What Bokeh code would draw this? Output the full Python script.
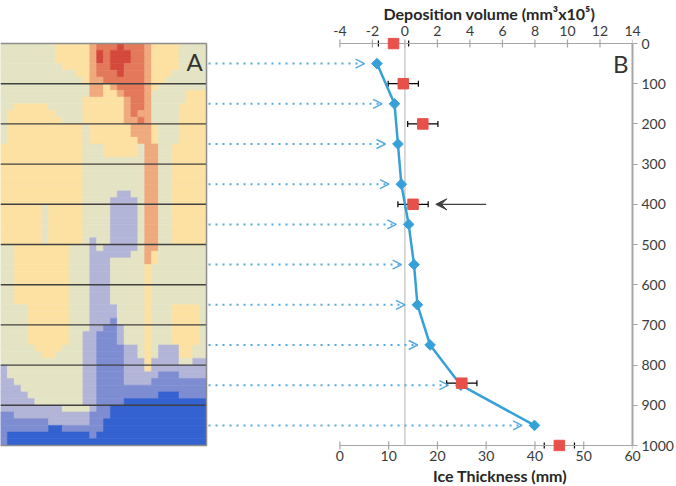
import math
from bokeh.plotting import figure
from bokeh.models import (Range1d, LinearAxis, SingleIntervalTicker, ColumnDataSource,
                          Whisker, TeeHead, Arrow, OpenHead, VeeHead, Label, Title)
from bokeh.embed import file_html
from bokeh.resources import INLINE

# ---------------- data ----------------
ice_depth = [50, 150, 250, 350, 450, 550, 650, 750, 850, 950]
ice_thickness = [7.6, 11.2, 11.9, 12.6, 14.1, 15.2, 15.9, 18.5, 24.8, 39.9]

dep_depth = [0, 100, 200, 400, 845, 1000]
dep_volume = [-0.7, -0.1, 1.1, 0.5, 3.5, 9.5]
dep_error = [0.93, 0.93, 0.93, 0.93, 0.93, 0.93]

section_lines = [100, 200, 300, 400, 500, 600, 700, 800, 900]
highlight_depth = 400
highlight_from, highlight_to = 5.0, 1.9   # deposition-volume units

top_title = "Deposition volume (mm\u00b3x10\u2075)"
bottom_title = "Ice Thickness (mm)"

# panel A map (run-length rows, 30 cells each, top -> bottom)
IMG_ROWS = [
    "g8 y5 o1 r3 R1 r3 o1 y4 g4",
    "g8 y5 o1 R1 r1 R3 r2 o1 y4 g4",
    "g8 y5 o1 R1 r1 R3 r2 o1 y4 g4",
    "g9 y4 o1 r2 R2 r3 o1 y4 g4",
    "g11 y2 o1 r3 R1 r3 o1 y3 g5",
    "g12 y1 o2 r6 o1 y2 g6",
    "g13 o2 y1 o1 r4 o1 y1 g7",
    "g13 o2 y2 o1 r3 o1 g5 y3",
    "g12 y6 o1 r2 o1 g5 y3",
    "g2 y5 g5 y6 o1 r2 o1 g4 y4",
    "g1 y7 g4 y6 o1 r1 o2 g4 y4",
    "g1 y8 g3 y6 o2 r1 o1 g4 y4",
    "g1 y11 g1 y6 o3 y1 g3 y4",
    "g1 y11 g1 y6 o3 y1 g3 y4",
    "g1 y11 g1 y7 o2 y1 g3 y4",
    "y12 g3 y5 g1 o2 g2 y5",
    "y12 g3 y5 g1 o2 g2 y5",
    "y12 g9 o2 g2 y5",
    "y12 g9 o2 g2 y5",
    "y12 g9 o2 g2 y5",
    "y12 g9 o2 g2 y5",
    "y12 g9 o2 g2 y5",
    "y12 g5 l2 g2 o2 g2 y5",
    "y12 g4 l4 g1 o2 g2 y5",
    "y6 g1 y5 g4 l4 g1 o2 g2 y5",
    "y6 g1 y5 g4 l4 g1 o2 g2 y5",
    "y6 g1 y5 g4 l4 g1 o2 g2 y5",
    "y6 g1 y5 g4 l4 g1 o2 g2 y5",
    "y6 g1 y5 g4 l4 g1 o2 g2 y5",
    "y6 g1 y5 g1 l1 g2 l4 g1 o2 g2 y5",
    "g2 y8 g3 l1 g1 l5 g1 o2 g7",
    "g2 y8 g3 l6 g2 o1 y1 g7",
    "g2 y8 g3 l3 g5 o1 y1 g7",
    "g2 y8 g3 l3 g5 y1 g8",
    "g2 y8 g3 l3 g5 y1 g8",
    "g2 y8 g3 l3 g5 y1 g8",
    "g2 y8 g3 l3 g5 y1 g8",
    "g2 y8 g3 l3 g5 y1 g8",
    "g2 y8 g3 l3 g5 y1 g8",
    "g4 y6 g3 l4 g4 y1 g3 y4 g1",
    "g4 y6 g3 l4 g4 y1 g3 y4 g1",
    "g4 y6 g3 l3 b1 g4 y1 g3 y4 g1",
    "g4 y6 g3 l2 b2 l1 g3 y1 g3 y4 g1",
    "g4 y6 g2 l2 b3 l1 g3 y1 g3 y4 g1",
    "g4 y6 g2 l2 b3 l1 g3 y1 g3 y4 g1",
    "g5 y4 g3 l2 b4 l2 g1 y1 g1 l3 y2 g2",
    "g6 y2 g4 l2 b4 l2 g1 y1 g1 l3 y2 g2",
    "g12 l2 b4 l3 y1 l4 g2 l2",
    "l1 g11 l2 b4 l3 y1 l8",
    "l1 g11 l2 b4 l5 b3 l4",
    "l2 g10 l2 b4 l4 b8",
    "l3 g9 l2 b16",
    "l4 g8 l2 b9 B3 b4",
    "l5 g7 l2 b4 B12",
    "l9 g4 l1 b2 B14",
    "b2 l11 b3 B14",
    "b7 l6 b2 B15",
    "b7 B2 b6 B15",
    "b1 B12 b1 B16",
    "b1 B29",
]
PALETTE = {
    "g": "#E4E4C5", "y": "#FCE1A3", "o": "#EFA97D", "r": "#E3795A", "R": "#D4493B",
    "l": "#B2B5D7", "b": "#7E8DD1", "B": "#3462D0",
}

# ---------------- layout ----------------
W, H = 676, 486
FRAME_PX = 635.0      # frame width (frame starts at canvas x=0)
AXIS0_PX = 341.0      # where the chart axes start
IMG_PX = 207.0        # width of panel A
Y0_PX, Y1000_PX = 43.0, 445.0   # screen rows of depth 0 / 1000
PAD_PX = 6.0          # frame margin above/below so end markers are not clipped
TICK_PX = 4.0
ICE_LO, ICE_HI = 0, 60
DEP_LO, DEP_HI = -4, 14
DEPTH_LO, DEPTH_HI = 0, 1000
ice_start = ICE_LO - (ICE_HI - ICE_LO) * AXIS0_PX / (FRAME_PX - AXIS0_PX)
dep_start = DEP_LO - (DEP_HI - DEP_LO) * AXIS0_PX / (FRAME_PX - AXIS0_PX)
ice_per_px = (ICE_HI - ice_start) / FRAME_PX
dpp = (DEPTH_HI - DEPTH_LO) / (Y1000_PX - Y0_PX)   # depth units per pixel


def depth_at_px(py):
    return DEPTH_LO + (py - Y0_PX) * dpp


BLUE = "#36A1D8"
DOT_BLUE = "#55AAE0"
RED = "#E8514A"
TXT = "#3A3A3A"
AXC = "#A6A6A6"

p = figure(width=W, height=H, output_backend="svg", toolbar_location=None,
           x_range=Range1d(ice_start, ICE_HI),
           y_range=Range1d(DEPTH_HI + PAD_PX * dpp, DEPTH_LO - PAD_PX * dpp),
           x_axis_location=None, y_axis_location=None,
           min_border_left=0, min_border_right=int(W - FRAME_PX),
           min_border_top=int(Y0_PX - PAD_PX), min_border_bottom=int(H - Y1000_PX - PAD_PX),
           outline_line_color=None, background_fill_color="white", border_fill_color="white")
p.grid.visible = False
p.extra_x_ranges = {"dep": Range1d(dep_start, DEP_HI), "img": Range1d(0, FRAME_PX / IMG_PX)}

# ---- panel A map as merged cells ----
n_rows = len(IMG_ROWS)
cells = dict(left=[], right=[], top=[], bottom=[], color=[])
for r, row in enumerate(IMG_ROWS):
    runs = [(tok[0], int(tok[1:])) for tok in row.split()]
    total = sum(n for _, n in runs)
    c = 0
    for code, n in runs:
        cells["left"].append(c / total)
        cells["right"].append((c + n) / total)
        cells["top"].append(DEPTH_LO + r * (DEPTH_HI - DEPTH_LO) / n_rows)
        cells["bottom"].append(DEPTH_LO + (r + 1) * (DEPTH_HI - DEPTH_LO) / n_rows)
        cells["color"].append(PALETTE[code])
        c += n
p.quad(left="left", right="right", top="top", bottom="bottom", source=ColumnDataSource(cells),
       fill_color="color", line_color="color", line_width=0.6, x_range_name="img")
p.segment(x0=[0] * len(section_lines), x1=[1] * len(section_lines), y0=section_lines, y1=section_lines,
          x_range_name="img", line_color="#404040", line_width=1.4)
p.segment(x0=[0, 1, 0], y0=[DEPTH_LO, DEPTH_LO, DEPTH_HI], x1=[1, 1, 1], y1=[DEPTH_LO, DEPTH_HI, DEPTH_HI],
          x_range_name="img", line_color="#8C8C8C", line_width=1.5)

# ---- axis lines / crossing ticks of the top and bottom axes (at depth 0 and 1000) ----
dep_ticks = list(range(DEP_LO, DEP_HI + 1, 2))
ice_ticks = list(range(ICE_LO, ICE_HI + 1, 10))
p.segment(x0=[DEP_LO], x1=[DEP_HI], y0=[DEPTH_LO], y1=[DEPTH_LO], x_range_name="dep",
          line_color=AXC, line_width=1.2)
p.segment(x0=dep_ticks, x1=dep_ticks, y0=[DEPTH_LO - TICK_PX * dpp] * len(dep_ticks),
          y1=[DEPTH_LO + TICK_PX * dpp] * len(dep_ticks), x_range_name="dep",
          line_color=AXC, line_width=1.2)
p.segment(x0=[ICE_LO], x1=[ICE_HI], y0=[DEPTH_HI], y1=[DEPTH_HI], line_color=AXC, line_width=1.2)
p.segment(x0=ice_ticks, x1=ice_ticks, y0=[DEPTH_HI - TICK_PX * dpp] * len(ice_ticks),
          y1=[DEPTH_HI + TICK_PX * dpp] * len(ice_ticks), line_color=AXC, line_width=1.2)

# ---- zero line of deposition axis ----
p.segment(x0=[0], x1=[0], y0=[DEPTH_LO], y1=[DEPTH_HI], x_range_name="dep",
          line_color="#C4C4C4", line_width=1.3)

# ---- dotted arrows from panel A ----
img_right_ice = ice_start + IMG_PX * ice_per_px
arrow_src = ColumnDataSource(dict(
    xs=[img_right_ice + 2 * ice_per_px] * len(ice_depth),
    xe=[v - 12.5 * ice_per_px for v in ice_thickness],
    y=ice_depth))
p.add_layout(Arrow(source=arrow_src, x_start="xs", y_start="y", x_end="xe", y_end="y",
                   line_color=DOT_BLUE, line_width=2, line_dash="2 5",
                   end=OpenHead(size=9, line_color=DOT_BLUE, line_width=1.5)))

# ---- ice thickness profile ----
p.line(x=ice_thickness, y=ice_depth, line_color=BLUE, line_width=2.5)
p.scatter(x=ice_thickness, y=ice_depth, marker="square", angle=math.pi / 4, size=7.5,
          fill_color=BLUE, line_color=BLUE)

# ---- deposition volume with error bars ----
dep_src = ColumnDataSource(dict(
    depth=dep_depth, vol=dep_volume,
    lo=[v - e for v, e in zip(dep_volume, dep_error)],
    hi=[v + e for v, e in zip(dep_volume, dep_error)]))
p.add_layout(Whisker(source=dep_src, base="depth", lower="lo", upper="hi", dimension="width",
                     x_range_name="dep", line_color="black", line_width=1.2, level="underlay",
                     upper_head=TeeHead(size=6, line_color="black", line_width=1.2),
                     lower_head=TeeHead(size=6, line_color="black", line_width=1.2)))
p.scatter(x="vol", y="depth", source=dep_src, x_range_name="dep", marker="square", size=10.5,
          fill_color=RED, line_color=RED)

# ---- highlight arrow ----
p.add_layout(Arrow(x_start=highlight_from, x_end=highlight_to, y_start=highlight_depth,
                   y_end=highlight_depth, x_range_name="dep", line_color="#404040", line_width=1.2,
                   end=VeeHead(size=11, fill_color="#404040", line_color="#404040")))

# ---- panel letters ----
p.add_layout(Label(x=0.982, y=depth_at_px(61), x_range_name="img", text="A", text_align="right",
                   text_baseline="middle", text_font="Lato", text_font_size="24px", text_color="#333333"))
p.add_layout(Label(x=13.75, y=depth_at_px(63), x_range_name="dep", text="B", text_align="right",
                   text_baseline="middle", text_font="Lato", text_font_size="24px", text_color="#333333"))


def style(ax):
    ax.minor_tick_in = 0
    ax.minor_tick_out = 0
    ax.major_label_text_font = "Lato"
    ax.major_label_text_font_size = "14px"
    ax.major_label_text_color = TXT


# top axis: labels only (line and ticks drawn at depth 0 above)
top_ax = LinearAxis(x_range_name="dep", ticker=SingleIntervalTicker(interval=2), bounds=(DEP_LO, DEP_HI))
style(top_ax)
top_ax.axis_line_color = None
top_ax.major_tick_line_color = None
top_ax.major_tick_in = 0
top_ax.major_tick_out = 0
top_ax.major_label_standoff = 2
top_ax.major_label_overrides = {-4: "-4", -2: "-2"}
p.add_layout(top_ax, "above")

bot_ax = LinearAxis(ticker=SingleIntervalTicker(interval=10), bounds=(ICE_LO, ICE_HI))
style(bot_ax)
bot_ax.axis_line_color = None
bot_ax.major_tick_line_color = None
bot_ax.major_tick_in = 0
bot_ax.major_tick_out = 0
bot_ax.major_label_standoff = -1
p.add_layout(bot_ax, "below")

right_ax = LinearAxis(ticker=SingleIntervalTicker(interval=100), bounds=(DEPTH_LO, DEPTH_HI))
style(right_ax)
right_ax.axis_line_color = AXC
right_ax.axis_line_width = 2
right_ax.major_tick_line_color = AXC
right_ax.major_tick_line_width = 1.2
right_ax.major_tick_in = 0
right_ax.major_tick_out = 5
right_ax.major_label_standoff = 4
p.add_layout(right_ax, "right")

# axis titles (estimated text widths for positioning)
TOP_TITLE_W, BOTTOM_TITLE_W = 209, 133
TOP_TITLE_MID, BOTTOM_TITLE_MID = 487.5, 499.0
p.add_layout(Title(text=top_title, align="left", offset=TOP_TITLE_MID - TOP_TITLE_W / 2, standoff=0,
                   text_font="Lato", text_font_style="bold", text_font_size="16px",
                   text_color="#262626"), "above")
p.add_layout(Title(text=bottom_title, align="left", offset=BOTTOM_TITLE_MID - BOTTOM_TITLE_W / 2,
                   standoff=0, text_font="Lato", text_font_style="bold", text_font_size="16px",
                   text_color="#262626"), "below")

open("out.html", "w").write(file_html(p, INLINE))
